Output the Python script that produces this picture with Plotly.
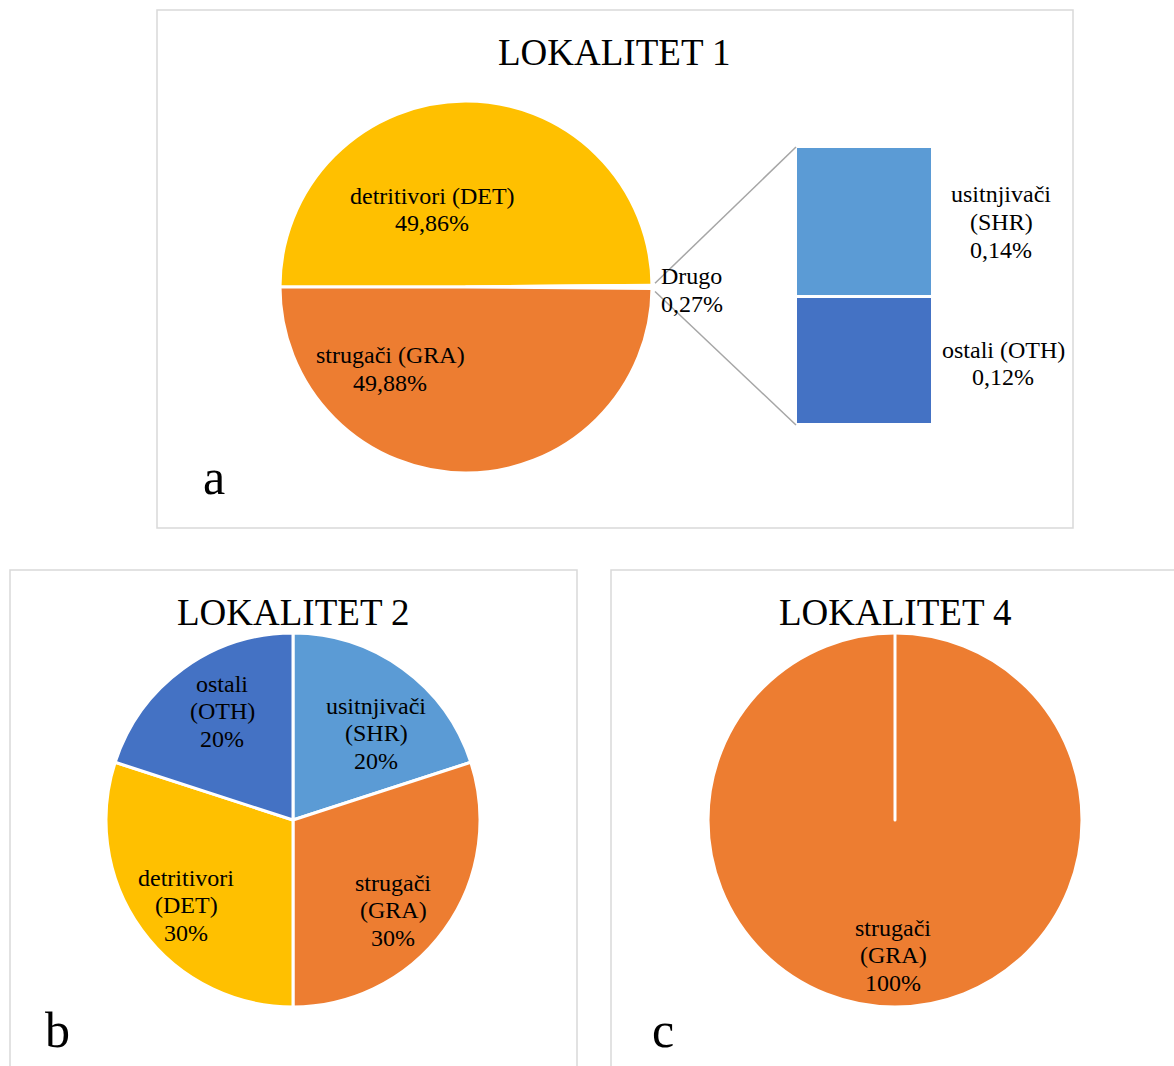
import math
import plotly.graph_objects as go

W, H = 1174, 1066

# ---------------- data ----------------
# LOKALITET 1 (pie-of-bar)
lok1_codes = ["DET", "Drugo", "GRA"]
lok1_values = [49.86, 0.27, 49.88]
drugo_codes = ["OTH", "SHR"]          # stacked bottom -> top
drugo_values = [0.12, 0.14]
# LOKALITET 2
lok2_codes = ["SHR", "GRA", "DET", "OTH"]
lok2_values = [20, 30, 30, 20]
# LOKALITET 4
lok4_codes = ["GRA", "OTH"]
lok4_values = [100, 0]

names = {"DET": "detritivori", "GRA": "strugači", "SHR": "usitnjivači",
         "OTH": "ostali", "Drugo": "Drugo"}
titles = ["LOKALITET 1", "LOKALITET 2", "LOKALITET 4"]
panel_letters = ["a", "b", "c"]

# ---------------- styles ----------------
colors = {"DET": "#FFC000", "GRA": "#ED7D31", "SHR": "#5B9BD5",
          "OTH": "#4472C4", "Drugo": "#FFFFFF"}
FONT = "Liberation Serif, Times New Roman, serif"


def px(x):
    return x / W


def py(y):
    return 1 - y / H


def pct2(v):
    return f"{v:.2f}".replace(".", ",") + "%"


def pct0(v):
    return f"{v:.0f}%"


fig = go.Figure()

# pie geometry (pixel layout)
pieA = dict(cx=466, cy=287, r=186)
pieB = dict(cx=293, cy=820, r=187)
pieC = dict(cx=895, cy=820, r=187)


def dom(p):
    return dict(x=[px(p["cx"] - p["r"]), px(p["cx"] + p["r"])],
                y=[py(p["cy"] + p["r"]), py(p["cy"] - p["r"])])


line_style = dict(color="#FFFFFF", width=3)

fig.add_trace(go.Pie(values=lok1_values, labels=lok1_codes, sort=False,
                     direction="clockwise", rotation=270,
                     marker=dict(colors=[colors[c] for c in lok1_codes], line=line_style),
                     textinfo="none", hoverinfo="label+value", domain=dom(pieA),
                     showlegend=False))
fig.add_trace(go.Pie(values=lok2_values, labels=lok2_codes, sort=False,
                     direction="clockwise", rotation=0,
                     marker=dict(colors=[colors[c] for c in lok2_codes], line=line_style),
                     textinfo="none", hoverinfo="label+value", domain=dom(pieB),
                     showlegend=False))
fig.add_trace(go.Pie(values=lok4_values, labels=lok4_codes, sort=False,
                     direction="clockwise", rotation=0,
                     marker=dict(colors=[colors[c] for c in lok4_codes], line=line_style),
                     textinfo="none", hoverinfo="label+value", domain=dom(pieC),
                     showlegend=False))

# stacked bar for "Drugo"
barbox = dict(x0=796, x1=933, y0=147, y1=425)
for code, v in zip(drugo_codes, drugo_values):
    fig.add_trace(go.Bar(x=["Drugo"], y=[v], name=code,
                         marker=dict(color=colors[code], line=dict(color="white", width=3)),
                         showlegend=False, hoverinfo="name+y"))

fig.update_layout(
    barmode="stack", bargap=0,
    xaxis=dict(domain=[px(barbox["x0"]), px(barbox["x1"])], visible=False,
               range=[-0.5, 0.5], fixedrange=True),
    yaxis=dict(domain=[py(barbox["y1"]), py(barbox["y0"])], visible=False,
               range=[0, sum(drugo_values)], fixedrange=True),
)

# connector lines from the "Drugo" slice to the bar
tot = sum(lok1_values)
start_deg = 270 + lok1_values[0] / tot * 360
end_deg = start_deg + lok1_values[1] / tot * 360
for ang, by, dy in [(start_deg, barbox["y0"], -2), (end_deg, barbox["y1"], 3)]:
    a = math.radians(ang)
    sx = pieA["cx"] + pieA["r"] * math.sin(a) + 3
    sy = pieA["cy"] - pieA["r"] * math.cos(a) + dy
    fig.add_shape(type="line", xref="paper", yref="paper",
                  x0=px(sx), y0=py(sy), x1=px(barbox["x0"]), y1=py(by),
                  line=dict(color="#A6A6A6", width=1.5))

# panel frames
frames = [(157, 10, 1073, 528), (10, 570, 577, 1090), (611, 570, 1190, 1090)]
for x0, y0, x1, y1 in frames:
    fig.add_shape(type="rect", xref="paper", yref="paper",
                  x0=px(x0), y0=py(y0), x1=px(x1), y1=py(y1),
                  line=dict(color="#D9D9D9", width=1.5), fillcolor="rgba(0,0,0,0)",
                  layer="below")


def text_block(cx, cy, lines, size=24, lh=27.5, anchor="center"):
    n = len(lines)
    for i, t in enumerate(lines):
        y = cy + (i - (n - 1) / 2) * lh
        fig.add_annotation(x=px(cx), y=py(y), xref="paper", yref="paper",
                           text=t, showarrow=False, xanchor=anchor, yanchor="middle",
                           font=dict(family=FONT, size=size, color="black"))


# titles
for t, (cx, cy) in zip(titles, [(614, 52), (293, 612), (895, 612)]):
    text_block(cx, cy, [t], size=37)
# panel letters
for t, (cx, cy) in zip(panel_letters, [(214, 477), (58, 1030), (663, 1030)]):
    text_block(cx, cy, [t], size=50)

# LOKALITET 1 labels
v1 = dict(zip(lok1_codes, lok1_values))
text_block(432, 209.5, [f"{names['DET']} (DET)", pct2(v1['DET'])])
text_block(390, 369, [f"{names['GRA']} (GRA)", pct2(v1['GRA'])])
text_block(659, 290, [names["Drugo"], pct2(v1["Drugo"])], anchor="left")
vd = dict(zip(drugo_codes, drugo_values))
text_block(1001, 222, [names["SHR"], "(SHR)", pct2(vd["SHR"])])
text_block(1003, 363.5, [f"{names['OTH']} (OTH)", pct2(vd["OTH"])])

# LOKALITET 2 labels
v2 = dict(zip(lok2_codes, lok2_values))
pos2 = {"OTH": (222, 711), "SHR": (376, 733), "DET": (186, 905), "GRA": (393, 910)}
for c in lok2_codes:
    text_block(*pos2[c], [names[c], f"({c})", pct0(v2[c])])

# LOKALITET 4 label
v4 = dict(zip(lok4_codes, lok4_values))
text_block(893, 955, [names["GRA"], "(GRA)", pct0(v4["GRA"])])

fig.update_layout(width=W, height=H, margin=dict(l=0, r=0, t=0, b=0),
                  paper_bgcolor="white", plot_bgcolor="white", showlegend=False)

fig.write_html("out.html", config={"displayModeBar": False},
               post_script="document.body.style.margin='0';")
